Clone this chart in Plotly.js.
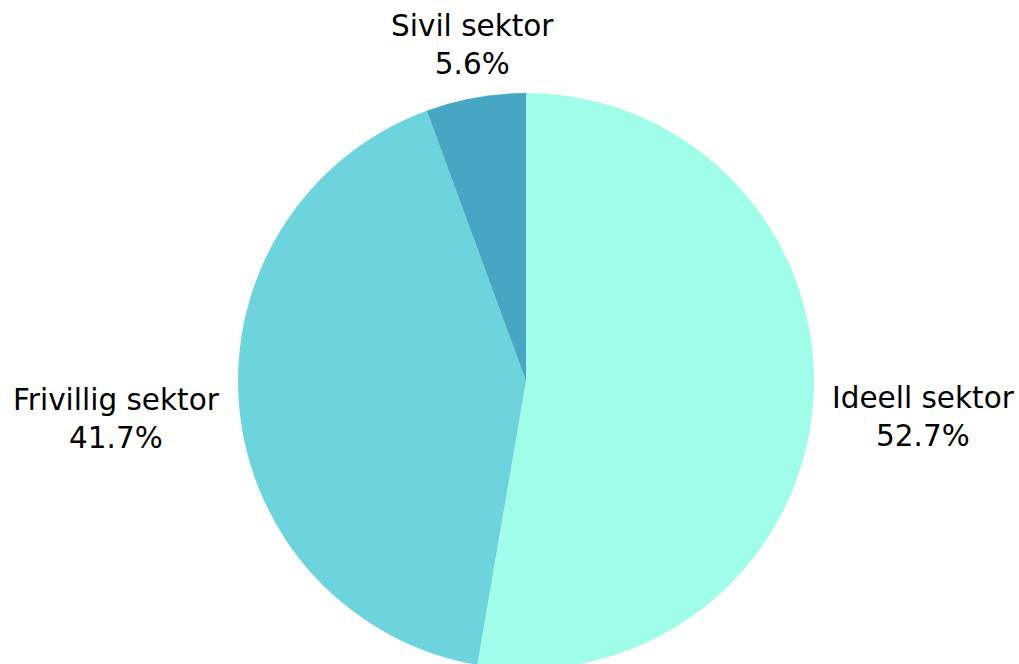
<!DOCTYPE html>
<html>
<head>
<meta charset="utf-8">
<script src="https://cdn.plot.ly/plotly-3.0.1.min.js"></script>
<style>
html,body{margin:0;padding:0;overflow:hidden;background:#fff;}
#chart{width:1019px;height:669px;}
</style>
</head>
<body>
<div id="chart"></div>
<script>
var labels = ["Ideell sektor", "Frivillig sektor", "Sivil sektor"];
var values = [52.7, 41.7, 5.6];
var colors = ["#A0FDEA", "#6DD3DC", "#46A6C4"];

var W = 1019, H = 669;
var pieDomainX = [0.0324, 1];
var pieDomainY = [0, 576 / 669];
var labelGap = 17;
var labelFont = {family: "DejaVu Sans, sans-serif", size: 29.5, color: "#000"};

var trace = {
  type: "pie",
  labels: labels,
  values: values,
  sort: false,
  direction: "clockwise",
  rotation: 0,
  marker: {colors: colors, line: {width: 0}},
  textinfo: "none",
  textposition: "none",
  automargin: false,
  hoverinfo: "label+percent",
  domain: {x: pieDomainX, y: pieDomainY}
};

// label positions derived from the slice angles
var cx = (pieDomainX[0] + pieDomainX[1]) / 2 * W;
var cyPaper = (pieDomainY[0] + pieDomainY[1]) / 2;
var cy = (1 - cyPaper) * H;
var r = Math.min((pieDomainX[1] - pieDomainX[0]) * W, (pieDomainY[1] - pieDomainY[0]) * H) / 2;
var total = values.reduce(function (a, b) { return a + b; }, 0);
var cum = 0;
var annotations = values.map(function (v, i) {
  var mid = (cum + v / 2) / total * 2 * Math.PI;
  cum += v;
  var s = Math.sin(mid), c = Math.cos(mid);
  var px = cx + (r + labelGap) * s;
  var py = cy - (r + labelGap) * c;
  var xanchor = Math.abs(s) < 0.3 ? "center" : (s > 0 ? "left" : "right");
  var yanchor = c > 0.7 ? "bottom" : (c < -0.7 ? "top" : "middle");
  var pct = (v / total * 100).toFixed(1) + "%";
  return {
    xref: "paper", yref: "paper",
    x: px / W, y: 1 - py / H,
    xanchor: xanchor, yanchor: yanchor,
    yshift: yanchor === "middle" ? -10 : -2,
    showarrow: false,
    align: "center",
    text: labels[i] + "<br>" + pct,
    font: labelFont
  };
});

var layout = {
  width: W,
  height: H,
  margin: {l: 0, r: 0, t: 0, b: 0},
  showlegend: false,
  paper_bgcolor: "#fff",
  font: {family: "DejaVu Sans, sans-serif", color: "#000"},
  annotations: annotations
};

Plotly.newPlot("chart", [trace], layout, {displayModeBar: false, staticPlot: true});
</script>
</body>
</html>
